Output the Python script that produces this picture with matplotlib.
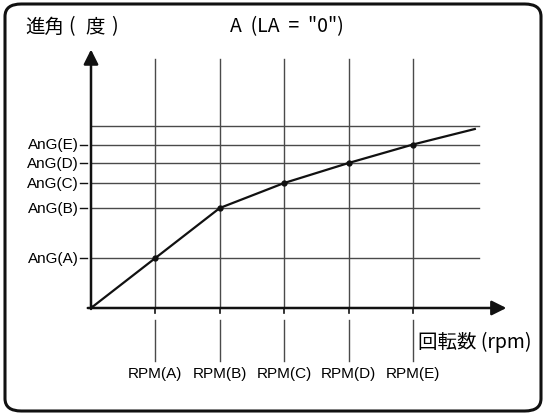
import matplotlib
matplotlib.use("Agg")
import matplotlib.pyplot as plt
from matplotlib.patches import FancyBboxPatch

plt.rcParams['font.family'] = ['Liberation Sans', 'Noto Sans CJK JP', 'DejaVu Sans']

# data (x in rpm steps, y in arbitrary angle units)
rpm_labels = ['RPM(A)', 'RPM(B)', 'RPM(C)', 'RPM(D)', 'RPM(E)']
rpm_pos = [1, 2, 3, 4, 5]
ang_labels = ['AnG(A)', 'AnG(B)', 'AnG(C)', 'AnG(D)', 'AnG(E)']
ang_vals = [1.0, 2.0, 2.5, 2.9, 3.27]
top_line = 3.64
curve_x = [0, 1, 2, 3, 4, 5, 5.96]
curve_y = [0, 1.0, 2.0, 2.5, 2.9, 3.27, 3.58]

W, H = 543, 414
fig = plt.figure(figsize=(W / 100, H / 100), dpi=100)

# rounded frame
fig.patches.append(FancyBboxPatch((5 / W, 2 / H), 536 / W, 407 / H,
                                  boxstyle="round,pad=0,rounding_size=0.03",
                                  transform=fig.transFigure, fill=False,
                                  edgecolor='#111111', linewidth=2.2))

# axes: x unit = 64.4 px, y unit = 50 px, origin at (91, 309)
xu, yu = 64.4, 50.0
x0, y0 = 91, 309
xmax, ymax = 6.5, 5.3
ax = fig.add_axes([x0 / W, (H - y0) / H, xmax * xu / W, ymax * yu / H])
ax.set_xlim(0, xmax)
ax.set_ylim(0, ymax)
ax.axis('off')

grid_c = '#4a4a4a'
# horizontal grid lines
for v in ang_vals + [top_line]:
    ax.plot([0, 6.02], [v, v], color=grid_c, lw=1.0)
# vertical grid lines
for p in rpm_pos:
    ax.plot([p, p], [0, 4.98], color=grid_c, lw=1.0)
    ax.plot([p, p], [-0.09, 0], color='#111111', lw=1.2, clip_on=False)
    ax.plot([p, p], [-0.24, -1.06], color=grid_c, lw=1.0, clip_on=False)

# y tick dashes and labels
for v, lab in zip(ang_vals, ang_labels):
    ax.plot([-0.17, -0.06], [v, v], color='#111111', lw=1.0, clip_on=False)
    ax.text(-0.19, v, lab, ha='right', va='center', fontsize=11)

for p, lab in zip(rpm_pos, rpm_labels):
    ax.text(p, -1.3, lab, ha='center', va='center', fontsize=11)

# axes arrows
ax.annotate('', xy=(6.45, 0), xytext=(-0.05, 0),
            arrowprops=dict(arrowstyle='-|>', color='#111111', lw=1.8,
                            mutation_scale=22, shrinkA=0, shrinkB=0),
            annotation_clip=False)
ax.annotate('', xy=(0, 5.17), xytext=(0, -0.02),
            arrowprops=dict(arrowstyle='-|>', color='#111111', lw=1.8,
                            mutation_scale=22, shrinkA=0, shrinkB=0),
            annotation_clip=False)

# curve
ax.plot(curve_x, curve_y, color='#111111', lw=1.6)
ax.plot(curve_x[:-1], curve_y[:-1], 'o', color='#111111', ms=3.5)

# texts
jp = ['Noto Sans CJK JP']
fig.text(25 / W, 1 - 27 / H, '進角', fontsize=14, ha='left', va='center', family=jp)
fig.text(71 / W, 1 - 27 / H, '(', fontsize=14, ha='center', va='center', family=jp)
fig.text(95 / W, 1 - 27 / H, '度', fontsize=14, ha='center', va='center', family=jp)
fig.text(114 / W, 1 - 27 / H, ')', fontsize=14, ha='center', va='center', family=jp)
fig.text(230 / W, 1 - 27 / H, 'A  (LA  =  "0")', fontsize=14, ha='left', va='center',
         family=jp)
fig.text(418 / W, 1 - 342 / H, '回転数 (rpm)', fontsize=14, ha='left', va='center',
         family=jp)

fig.savefig('out.png', dpi=100)
